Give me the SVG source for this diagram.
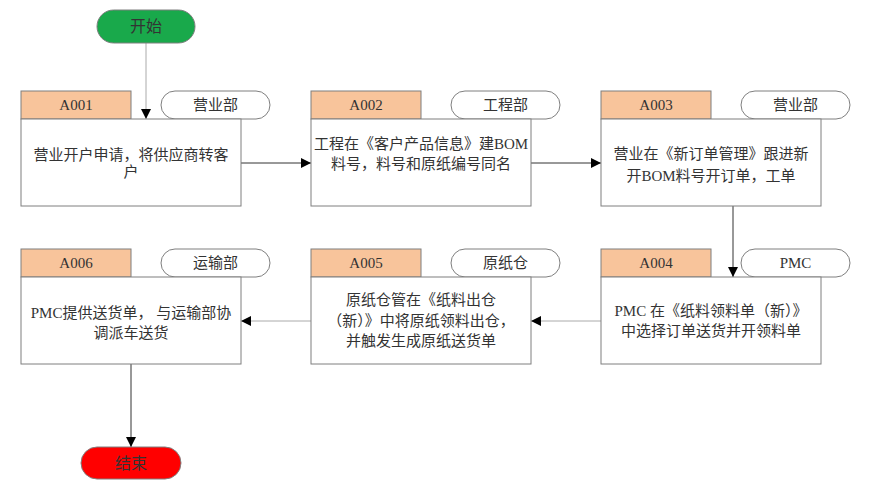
<svg xmlns="http://www.w3.org/2000/svg" width="870" height="499" viewBox="0 0 870 499">
<style>
.hd{fill:#f8c49b;stroke:#7f7f7f;stroke-width:1}
.bx{fill:#fff;stroke:#7f7f7f;stroke-width:1}
.pl{fill:#fff;stroke:#7f7f7f;stroke-width:1}
text{font-family:"Liberation Serif","Noto Sans CJK SC",serif;font-size:15px;fill:#333;text-anchor:middle}
.c{stroke:#333;stroke-width:1;fill:none}
.g{stroke:#aaa;stroke-width:1;fill:none}
</style>
<defs>
<marker id="ar" viewBox="0 0 10 10" refX="10" refY="5" markerWidth="10" markerHeight="10" markerUnits="userSpaceOnUse" orient="auto">
<path d="M0,0 L10,5 L0,10 z" fill="#000"/>
</marker>
</defs>
<g id="connectors">
<path class="g" d="M146,43 V119" marker-end="url(#ar)"/>
<path class="c" d="M241,163 H311" marker-end="url(#ar)"/>
<path class="c" d="M531,163 H601" marker-end="url(#ar)"/>
<path class="c" d="M733,206 V277" marker-end="url(#ar)"/>
<path class="g" d="M601,321 H531" marker-end="url(#ar)"/>
<path class="g" d="M311,321 H241" marker-end="url(#ar)"/>
<path class="c" d="M131,364 V447" marker-end="url(#ar)"/>
</g>
<g id="start">
<rect x="97" y="10" width="98" height="33" rx="16.5" fill="#19a94b" stroke="#7f7f7f"/>
<text x="146" y="32" style="font-size:16px">开始</text>
</g>
<g id="A001">
<rect class="hd" x="21" y="91" width="110" height="28"/>
<text x="76" y="110">A001</text>
<rect class="pl" x="161" y="91" width="109" height="28" rx="14"/>
<text x="215.5" y="110">营业部</text>
<rect class="bx" x="21" y="119" width="220" height="87"/>
<text x="131" y="160">营业开户申请，将供应商转客</text>
<text x="131" y="177">户</text>
</g>
<g id="A002">
<rect class="hd" x="311" y="91" width="110" height="28"/>
<text x="366" y="110">A002</text>
<rect class="pl" x="451" y="91" width="109" height="28" rx="14"/>
<text x="505.5" y="110">工程部</text>
<rect class="bx" x="311" y="119" width="220" height="87"/>
<text x="421" y="149">工程在《客户产品信息》建BOM</text>
<text x="421" y="169">料号，料号和原纸编号同名</text>
</g>
<g id="A003">
<rect class="hd" x="601" y="91" width="110" height="28"/>
<text x="656" y="110">A003</text>
<rect class="pl" x="741" y="91" width="109" height="28" rx="14"/>
<text x="795.5" y="110">营业部</text>
<rect class="bx" x="601" y="119" width="220" height="87"/>
<text x="711" y="159">营业在《新订单管理》跟进新</text>
<text x="711" y="181">开BOM料号开订单，工单</text>
</g>
<g id="A004">
<rect class="hd" x="601" y="249" width="110" height="28"/>
<text x="656" y="268">A004</text>
<rect class="pl" x="741" y="249" width="109" height="28" rx="14"/>
<text x="795.5" y="268">PMC</text>
<rect class="bx" x="601" y="277" width="220" height="87"/>
<text x="711" y="316">PMC 在《纸料领料单（新）》</text>
<text x="711" y="336">中选择订单送货并开领料单</text>
</g>
<g id="A005">
<rect class="hd" x="311" y="249" width="110" height="28"/>
<text x="366" y="268">A005</text>
<rect class="pl" x="451" y="249" width="109" height="28" rx="14"/>
<text x="505.5" y="268">原纸仓</text>
<rect class="bx" x="311" y="277" width="220" height="87"/>
<text x="421" y="305">原纸仓管在《纸料出仓</text>
<text x="421" y="326">（新）》中将原纸领料出仓，</text>
<text x="421" y="346">并触发生成原纸送货单</text>
</g>
<g id="A006">
<rect class="hd" x="21" y="249" width="110" height="28"/>
<text x="76" y="268">A006</text>
<rect class="pl" x="161" y="249" width="109" height="28" rx="14"/>
<text x="215.5" y="268">运输部</text>
<rect class="bx" x="21" y="277" width="220" height="87"/>
<text x="131" y="318">PMC提供送货单，  与运输部协</text>
<text x="131" y="338">调派车送货</text>
</g>
<g id="end">
<rect x="81" y="447" width="100" height="32" rx="16" fill="#ff0000" stroke="#7f7f7f"/>
<text x="131" y="469" style="font-size:16px">结束</text>
</g>
</svg>
